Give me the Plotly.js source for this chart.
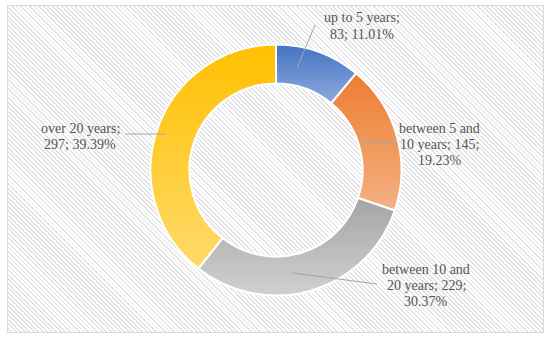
<!DOCTYPE html>
<html><head><meta charset="utf-8">
<script src="https://cdn.plot.ly/plotly-3.0.1.min.js"></script>
<style>
html,body{margin:0;padding:0;background:#fff;overflow:hidden;}
#frame{position:absolute;left:7px;top:5px;width:535px;height:326px;border:1px solid #d9d9d9;
background:repeating-linear-gradient(45deg,#ffffff 0px,#ffffff 1.9px,#e2e2e2 1.9px,#e2e2e2 3.2px);}
#chart{position:absolute;left:0;top:0;width:550px;height:341px;}
</style></head>
<body><div id="frame"></div><div id="chart"></div>
<script>
// ---- data ----
const categories = ['up to 5 years', 'between 5 and 10 years', 'between 10 and 20 years', 'over 20 years'];
const counts = [83, 145, 229, 297];
const colorsTop = ['#4472c4', '#ed7d31', '#a5a5a5', '#ffc000'];
const colorsBottom = ['#8eaadc', '#f4b183', '#d0d0d0', '#ffda6a'];
const colorsMid = ['#6a8fd0', '#f09a5c', '#bcbcbc', '#ffcd35'];

// ---- layout helpers ----
const W = 550, H = 341;
const px = x => x / W, py = y => 1 - y / H;
const total = counts.reduce((a, b) => a + b, 0);
const wordsPerLine = [[4, 2], [3, 3, 1], [3, 3, 1], [3, 2]];
const labelCenters = [[362, 26], [439.5, 144], [426, 285.5], [80, 136]];
const leaders = [[297, 68, 315, 25], [360, 140, 395, 144], [292, 273, 377, 284], [125, 134, 166, 134]];
const lineGap = 16;
const textFont = {family: 'Liberation Serif, DejaVu Serif, serif', size: 14, color: '#555555'};

const annotations = [];
categories.forEach((c, i) => {
  const pct = (counts[i] / total * 100).toFixed(2) + '%';
  const words = (c + '; ' + counts[i] + '; ' + pct).split(' ');
  const lines = [];
  let k = 0;
  wordsPerLine[i].forEach(n => { lines.push(words.slice(k, k + n).join(' ')); k += n; });
  const [cx, cy] = labelCenters[i];
  const y0 = cy - (lines.length - 1) * lineGap / 2;
  lines.forEach((ln, j) => {
    annotations.push({text: ln, x: px(cx), y: py(y0 + j * lineGap), xref: 'paper', yref: 'paper',
      xanchor: 'center', yanchor: 'middle', showarrow: false, font: textFont});
  });
});
const shapes = leaders.map(l => ({type: 'line', xref: 'paper', yref: 'paper',
  x0: px(l[0]), y0: py(l[1]), x1: px(l[2]), y1: py(l[3]), line: {color: '#a6a6a6', width: 1}}));

const cx = 276, cy = 170, r = 125.5;
const trace = {
  type: 'pie', values: counts, labels: categories, sort: false, direction: 'clockwise', rotation: 0,
  hole: 0.69, textinfo: 'none', hoverinfo: 'none', showlegend: false,
  marker: {colors: colorsMid, line: {color: '#ffffff', width: 2}},
  domain: {x: [px(cx - r), px(cx + r)], y: [py(cy + r), py(cy - r)]}
};
const layout = {width: W, height: H, margin: {l: 0, r: 0, t: 0, b: 0},
  paper_bgcolor: 'rgba(0,0,0,0)', plot_bgcolor: 'rgba(0,0,0,0)', annotations, shapes};

function applyGradients() {
  const svg = document.querySelector('#chart svg.main-svg');
  if (!svg) return;
  const ns = 'http://www.w3.org/2000/svg';
  let defs = document.getElementById('sliceGrads');
  if (!defs) {
    defs = document.createElementNS(ns, 'defs'); defs.id = 'sliceGrads';
    colorsTop.forEach((t, i) => {
      const g = document.createElementNS(ns, 'linearGradient');
      g.setAttribute('id', 'sg' + i); g.setAttribute('x1', '0'); g.setAttribute('y1', '0');
      g.setAttribute('x2', '0'); g.setAttribute('y2', '1');
      [[0, t], [1, colorsBottom[i]]].forEach(([o, c]) => {
        const s = document.createElementNS(ns, 'stop');
        s.setAttribute('offset', o); s.setAttribute('stop-color', c); g.appendChild(s);
      });
      defs.appendChild(g);
    });
    svg.insertBefore(defs, svg.firstChild);
  }
  document.querySelectorAll('#chart .slice path.surface').forEach((p, i) => {
    const d = p.__data__; const idx = d && d.i !== undefined ? d.i : i;
    p.style.fill = 'url(#sg' + idx + ')';
  });
}
Plotly.newPlot('chart', [trace], layout, {staticPlot: true}).then(gd => {
  applyGradients();
  gd.on('plotly_afterplot', applyGradients);
});
</script>
</body></html>
